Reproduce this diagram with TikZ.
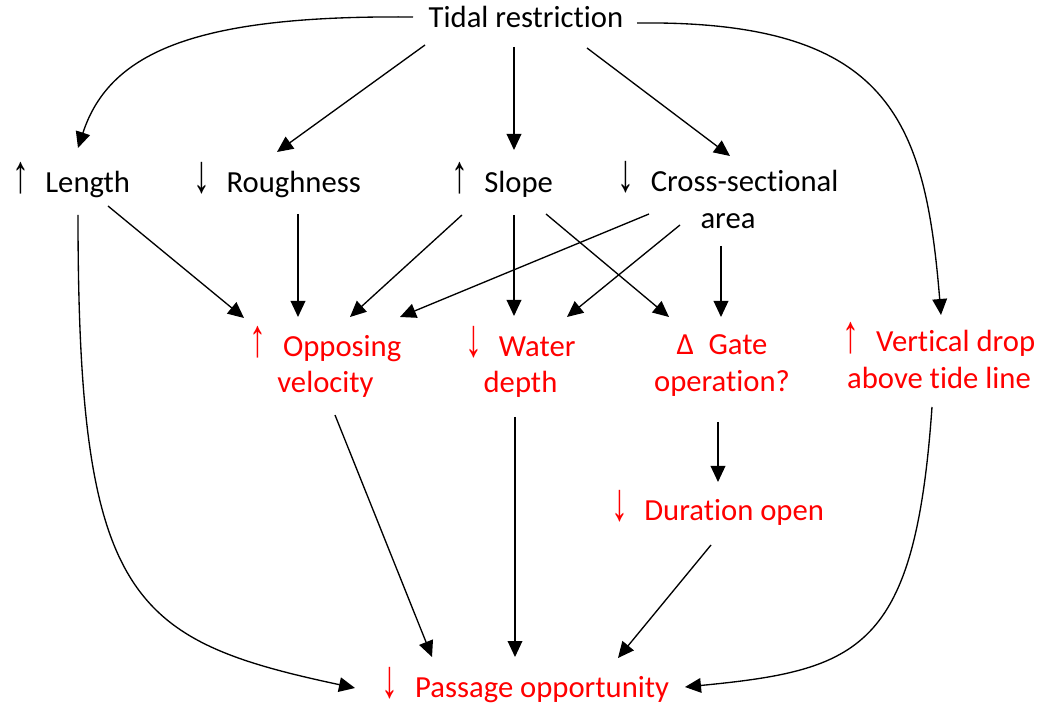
\documentclass[tikz,border=0pt]{standalone}
\usepackage{fontspec}
\setmainfont[Ligatures={NoCommon}]{Carlito}
\newfontfamily\arrfont{Liberation Sans}
\usetikzlibrary{arrows.meta,calc}
\newcommand\myup{\makebox[25pt][l]{\scalebox{1.1}[1.75]{\arrfont ↑}}}
\newcommand\mydn{\makebox[25pt][l]{\scalebox{1.1}[1.75]{\arrfont ↓}}}
\newcommand\mydelta{\makebox[24pt][l]{Δ}}
\begin{document}
\begin{tikzpicture}[x=0.75pt,y=-0.75pt,
  lbl/.style={anchor=base,inner sep=0pt,align=center,font=\fontsize{23pt}{27.75pt}\selectfont},
  cause/.style={lbl,text=black},
  effect/.style={lbl,text=red},
  conn/.style={-{Triangle[length=12pt,width=11pt]},line width=1pt,black}]
\useasboundingbox (0,0) rectangle (1040,709);
% nodes (base = baseline of the last line)
\node[cause] (tidal) at (526,28) {Tidal restriction};
\node[cause] (len) at (71,193) {\myup Length};
\node[cause] (rough) at (277,193) {\mydn Roughness};
\node[cause] (slope) at (502,193) {\myup Slope};
\node[cause] (cross) at (728,229) {\mydn Cross-sectional\\area};
\node[effect] (opp) at (325.5,393) {\myup Opposing\\velocity};
\node[effect] (water) at (520.5,393) {\mydn Water\\depth};
\node[effect] (gate) at (722,392) {\mydelta Gate\\operation?};
\node[effect] (vert) at (939,389) {\myup Vertical drop\\above tide line};
\node[effect] (dur) at (717.5,520) {\mydn Duration open};
\node[effect] (pass) at (525.5,697) {\mydn Passage opportunity};
% connectors from Tidal restriction
\draw[conn] ($(tidal.base)+(-113,-11)$) .. controls +(-213,-2) and +(32,-98) .. ($(len.base)+(7,-45)$);
\draw[conn] ($(tidal.base)+(-101,17)$) -- ($(rough.base)+(0,-41)$);
\draw[conn] ($(tidal.base)+(-12,19)$) -- ($(slope.base)+(12,-43)$);
\draw[conn] ($(tidal.base)+(61,20)$) -- ($(cross.base)+(2,-73)$);
\draw[conn] ($(tidal.base)+(111,-5)$) .. controls +(253,-3) and +(-16,-195) .. ($(vert.base)+(2,-74)$);
% from Length
\draw[conn] ($(len.base)+(7,22)$) .. controls +(0,385) and +(-225,-48) .. ($(pass.base)+(-170.5,-9)$);
\draw[conn] ($(len.base)+(37,13)$) -- ($(opp.base)+(-81.5,-75)$);
% from Roughness
\draw[conn] ($(rough.base)+(21,21)$) -- ($(opp.base)+(-27.5,-76)$);
% from Slope
\draw[conn] ($(slope.base)+(-40,22)$) -- ($(opp.base)+(24.5,-76)$);
\draw[conn] ($(slope.base)+(12,22)$) -- ($(water.base)+(-6.5,-77)$);
\draw[conn] ($(slope.base)+(44,21)$) -- ($(gate.base)+(-53,-75)$);
% from Cross-sectional area
\draw[conn] ($(cross.base)+(-79,-15)$) -- ($(opp.base)+(74.5,-76)$);
\draw[conn] ($(cross.base)+(-48,-4)$) -- ($(water.base)+(46.5,-76)$);
\draw[conn] ($(cross.base)+(-7,17)$) -- ($(gate.base)+(-1,-75)$);
% to Passage opportunity
\draw[conn] ($(opp.base)+(9.5,22)$) -- ($(pass.base)+(-93.5,-40)$);
\draw[conn] ($(water.base)+(-5.5,24)$) -- ($(pass.base)+(-10.5,-40)$);
\draw[conn] ($(gate.base)+(-4,30)$) -- ($(dur.base)+(0.5,-38)$);
\draw[conn] ($(dur.base)+(-6.5,25)$) -- ($(pass.base)+(92.5,-39)$);
\draw[conn] ($(vert.base)+(-7,18)$) .. controls +(-17,243) and +(175,-17) .. ($(pass.base)+(159.5,-10)$);
\end{tikzpicture}
\end{document}
